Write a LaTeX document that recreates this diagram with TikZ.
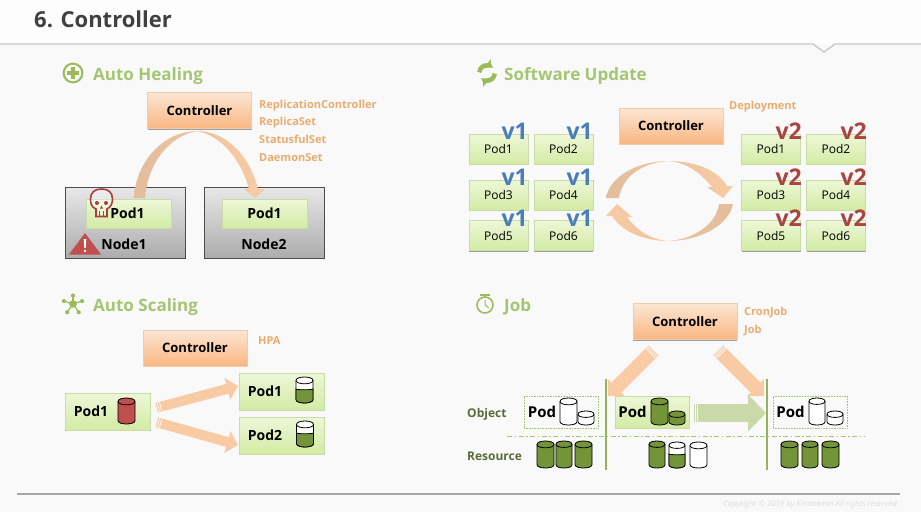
\documentclass[tikz,border=0pt]{standalone}
\usepackage{fontspec}
\setmainfont{Open Sans}
\usetikzlibrary{arrows.meta,shadows}
\definecolor{bgc}{HTML}{F9F9F9}
\definecolor{topc}{HTML}{FDFDFD}
\definecolor{hdr}{HTML}{A6C573}
\definecolor{icon}{HTML}{9BBB59}
\definecolor{lbl}{HTML}{E9AC70}
\definecolor{blockc}{HTML}{F8CBA5}
\definecolor{blockd}{HTML}{E2BD9C}
\definecolor{cylg}{HTML}{739439}
\definecolor{cylr}{HTML}{C0504D}
\definecolor{vone}{HTML}{4A7EBB}
\definecolor{vtwo}{HTML}{A94442}
\definecolor{darkt}{HTML}{5B6B3C}
\definecolor{podedge}{HTML}{C8DCA6}
\definecolor{podtop}{HTML}{EEF7D8}
\definecolor{podbot}{HTML}{D2EBA4}
\definecolor{ctedge}{HTML}{F0CBAA}
\definecolor{cttop}{HTML}{FCE6D4}
\definecolor{ctbot}{HTML}{F9B681}
\definecolor{hosttop}{HTML}{E8E8E8}
\definecolor{hostbot}{HTML}{ACACAC}
\definecolor{garrow}{HTML}{C9D9A9}
\definecolor{skullc}{HTML}{AD3D3D}
\newcommand{\bfs}[1]{\fontsize{#1}{#1}\selectfont\bfseries}
\newcommand{\rgs}[1]{\fontsize{#1}{#1}\selectfont}
% xl xr top bottom fill
\newcommand{\cylin}[5]{%
  \pgfmathsetmacro{\cr}{(#2-#1)*0.2}\pgfmathsetmacro{\ck}{\cr*1.33}%
  \pgfmathsetmacro{\ct}{#3+\cr}\pgfmathsetmacro{\cb}{#4-\cr}%
  \draw[cylline,fill=#5] (#1,\ct) -- (#1,\cb) .. controls +(0,\ck) and +(0,\ck) .. (#2,\cb) -- (#2,\ct) .. controls +(0,-\ck) and +(0,-\ck) .. (#1,\ct) -- cycle;
  \draw[cylline] (#1,\ct) .. controls +(0,\ck) and +(0,\ck) .. (#2,\ct);}
% xl xr top bottom level
\newcommand{\cylpart}[5]{%
  \cylin{#1}{#2}{#3}{#4}{white}%
  \draw[cylline,fill=cylg] (#1,#5) -- (#1,\cb) .. controls +(0,\ck) and +(0,\ck) .. (#2,\cb) -- (#2,#5) .. controls +(0,1) and +(0,1) .. (#1,#5) -- cycle;}
\tikzset{
  x=1pt,y=-1pt,
  cylline/.style={draw=black,line width=0.8pt},
  softshadow/.style={drop shadow={shadow xshift=0.4pt,shadow yshift=-1.4pt,fill=black!60,opacity=.6}},
  podbox/.style={rectangle,draw=podedge,line width=.5pt,top color=podtop,bottom color=podbot,softshadow,minimum width=85pt,minimum height=29pt,inner sep=0pt,font=\bfs{14}},
  smallpod/.style={podbox,minimum width=59pt,minimum height=30pt,font=\rgs{12}},
  ctrl/.style={rectangle,draw=ctedge,line width=.6pt,top color=cttop,bottom color=ctbot,softshadow,minimum width=104pt,minimum height=36pt,inner sep=0pt,font=\bfs{13}},
  hostbox/.style={rectangle,draw=black!70,line width=1pt,top color=hosttop,bottom color=hostbot,softshadow,minimum width=120pt,minimum height=71pt},
  hdrtext/.style={anchor=base west,inner sep=0pt,text=hdr,font=\bfs{17}},
  lbltext/.style={anchor=base west,inner sep=0pt,text=lbl,font=\bfs{11}},
  plaintext/.style={inner sep=0pt,font=\bfs{14}},
  vonetext/.style={anchor=base east,inner sep=0pt,text=vone,font=\bfs{23}},
  vtwotext/.style={anchor=base east,inner sep=0pt,text=vtwo,font=\bfs{23}},
  blockarrow/.style={draw=blockc,line width=#1},
  tailcut/.style={draw=bgc,line width=#1,dash pattern=on .8pt off 1.4pt on .8pt off 1.4pt on .8pt off 900pt},
  emptybox/.style={rectangle,draw=hdr,densely dotted,line width=.6pt,fill=bgc,minimum width=74pt,minimum height=32pt,inner sep=0pt},
  divider/.style={draw=icon!85!gray,line width=1.4pt},
  sidetext/.style={anchor=base west,inner sep=0pt,text=darkt,font=\bfs{12}},
}
\begin{document}
\begin{tikzpicture}
\useasboundingbox (0,0) rectangle (921,512);
\fill[bgc] (0,0) rectangle (921,512);
\fill[topc] (0,0) rectangle (921,44);
% title rule with notch
\fill[bgc] (813,44) -- (824,53) -- (835,44) -- cycle;
\draw[draw=black!22,line width=1.3pt] (0,44) -- (813,44) -- (824,52) -- (835,44) -- (921,44);
\draw[draw=black!35,line width=1.3pt] (17,494) -- (900,494);
\node[anchor=base west,inner sep=0pt,text=black!75,font=\bfs{22}] (title) at (34,27.5) {6. Controller};
\node[anchor=base east,inner sep=0pt,text=black!14,font=\rgs{7.8}\itshape] (copy) at (899,506) {Copyright © 2019 by Kimtaemin All rights reserved.};

% ---------- Headers ----------
\node[hdrtext] (h1) at (93,80) {Auto Healing};
\node[hdrtext] (h2) at (504,80) {Software Update};
\node[hdrtext] (h3) at (93,311) {Auto Scaling};
\node[hdrtext] (h4) at (504,311) {Job};
% plus icon
\draw[icon,line width=2pt] (73,73) circle (9.4);
\draw[icon,line width=4pt] (67,73) -- (79,73) (73,67) -- (73,79);
% refresh icon
\begin{scope}[shift={(487,73)},x=1pt,y=1pt]
  \draw[icon,line width=4.4pt,-{Triangle[length=5pt,width=11pt]}] (175:7.8) arc[start angle=175,end angle=55,radius=7.8];
  \draw[icon,line width=4.4pt,-{Triangle[length=5pt,width=11pt]}] (355:7.8) arc[start angle=355,end angle=235,radius=7.8];
\end{scope}
% network icon
\begin{scope}[shift={(73,304)},x=1pt,y=1pt]
  \foreach \a/\l in {90/8.5,18/9.5,-55/10,235/10,162/9.5}{
    \draw[icon,line width=1.2pt] (0,0) -- (\a:\l);
    \fill[icon] (\a:\l) circle (2.1);
  }
  \fill[icon] (0,0) circle (3.8);
\end{scope}
% stopwatch icon
\draw[icon,line width=1.5pt] (485,305) circle (8);
\draw[icon,line width=1.5pt] (480,295) -- (490,295) (485,295) -- (485,297);
\draw[icon,line width=1pt] (485,300) -- (485,305) -- (489,308);

% ---------- Auto Healing ----------
\node[ctrl] (hc) at (199.5,110.5) {Controller};
\node[lbltext] (l1) at (259,108) {ReplicationController};
\node[lbltext] (l2) at (259,125.5) {ReplicaSet};
\node[lbltext] (l3) at (259,143) {StatusfulSet};
\node[lbltext] (l4) at (259,161) {DaemonSet};
\node[hostbox] (n1) at (125,222.5) {};
\node[hostbox] (n2) at (264,222.5) {};
\shade[left color=blockd,right color=blockc]
  (134,198) .. controls (136,160) and (165,131) .. (197,131) .. controls (226,131) and (250,156) .. (258,189)
  -- (265,189) -- (255,198) -- (244,189) -- (249,189)
  .. controls (241,160) and (222,136) .. (197,131) .. controls (170,136) and (148,162) .. (145,198) -- cycle;
\node[podbox] (hp1) at (128.5,213.5) {};
\node[podbox] (hp2) at (264.5,213.5) {Pod1};
\node[plaintext] (hp1t) at (127.5,213.5) {Pod1};
\node[plaintext] (n1t) at (124,244) {Node1};
\node[plaintext] (n2t) at (264,244) {Node2};
% warning triangle
\fill[cylr] (69,254.5) -- (85,233) -- (101,254.5) -- cycle;
\fill[white] (83.7,239) -- (86.3,239) -- (85.7,248) -- (84.3,248) -- cycle (85,251) circle (1.4);
% skull
\draw[skullc,line width=1.6pt,fill=white,fill opacity=.35] (96,209) .. controls (91,207) and (90.5,203) .. (90.5,199) .. controls (90.5,192) and (95,189) .. (101.5,189) .. controls (108,189) and (112.5,192) .. (112.5,199) .. controls (112.5,203) and (111,207) .. (107,209) -- (107,216.5) -- (96,216.5) -- cycle;
\fill[skullc] (97,203) circle (2) (106,203) circle (2) (101.5,205.5) -- (103,208.5) -- (100,208.5) -- cycle;
\draw[skullc,line width=.9pt] (99.5,211) -- (99.5,216) (103.5,211) -- (103.5,216);

% ---------- Software Update ----------
\node[ctrl] (uc) at (671,126) {Controller};
\node[lbltext] (l5) at (729,109) {Deployment};
\foreach \nm/\x/\y in {1/498.5/149,2/563.5/149,3/498.5/195,4/563.5/195,5/498.5/235.5,6/563.5/235.5}{
  \node[smallpod] (ua\nm) at (\x,\y) {Pod\nm};
}
\foreach \nm/\x/\y in {1/771/149,2/836/149,3/771/195,4/836/195,5/771/235.5,6/836/235.5}{
  \node[smallpod] (ub\nm) at (\x,\y) {Pod\nm};
}
\foreach \nm/\x/\ty in {1/528/139,2/593/139,3/528/185,4/593/185,5/528/226.5,6/593/226.5}{
  \node[vonetext] (va\nm) at (\x,\ty) {v1};
}
\foreach \nm/\x/\ty in {1/802/139,2/867/139,3/802/185,4/867/185,5/802/226.5,6/867/226.5}{
  \node[vtwotext] (vb\nm) at (\x,\ty) {v2};
}
\shade[left color=blockd,right color=blockc]
  (606,198) .. controls (610,175) and (640,161) .. (668,161) .. controls (695,161) and (718,170) .. (727,186)
  -- (733,186) -- (723,198) -- (707,187) -- (712,187)
  .. controls (700,172) and (685,162) .. (668,161) .. controls (640,163) and (622,178) .. (619,198) -- cycle;
\shade[right color=blockd,left color=blockc]
  (733,204) .. controls (729,225) and (700,241) .. (668,241) .. controls (645,241) and (622,232) .. (612,216)
  -- (606,216) -- (617,204) -- (632,217) -- (627,217)
  .. controls (637,231) and (652,240) .. (668,241) .. controls (695,239) and (716,224) .. (719,204) -- cycle;

% ---------- Auto Scaling ----------
\node[ctrl] (sc) at (195,348) {Controller};
\node[lbltext] (l6) at (258,344) {HPA};
\node[podbox,minimum height=37pt] (sp0) at (107.5,411.5) {};
\node[plaintext] (sp0t) at (91,411.5) {Pod1};
\node[podbox,minimum height=37pt] (sp1) at (281.5,391.5) {};
\node[plaintext] (sp1t) at (265,391.5) {Pod1};
\node[podbox,minimum height=37pt] (sp2) at (281.5,435.5) {};
\node[plaintext] (sp2t) at (265,435.5) {Pod2};
\cylin{118}{135}{398}{424}{cylr}
\cylpart{296}{313}{377}{403}{389}
\cylpart{296.5}{313.5}{421}{447}{433}
\coordinate (st1) at (156,408);
\coordinate (sh1) at (238,386);
\coordinate (st2) at (156,422);
\coordinate (sh2) at (238,445);
\draw[blockarrow=10pt,-{Triangle[length=11pt,width=22pt]}] (st1) -- (sh1);
\draw[blockarrow=10pt,-{Triangle[length=11pt,width=22pt]}] (st2) -- (sh2);
\draw[tailcut=10pt] (st1) -- (sh1);
\draw[tailcut=10pt] (st2) -- (sh2);

% ---------- Job ----------
\node[ctrl] (jc) at (685,321.5) {Controller};
\node[lbltext] (l7) at (744,315.5) {CronJob};
\node[lbltext] (l8) at (744,333) {Job};
\coordinate (ja1) at (654,350);
\coordinate (jh1) at (608,396);
\coordinate (ja2) at (718,350);
\coordinate (jh2) at (764,396);
\draw[blockarrow=14pt,-{Triangle[length=12pt,width=24pt]}] (ja1) -- (jh1);
\draw[blockarrow=14pt,-{Triangle[length=12pt,width=24pt]}] (ja2) -- (jh2);
\draw[tailcut=14pt] (ja1) -- (jh1);
\draw[tailcut=14pt] (ja2) -- (jh2);
\coordinate (gt) at (693,413);
\coordinate (gh) at (766,413);
\draw[draw=garrow,line width=18pt,-{Triangle[length=18pt,width=36pt]}] (gt) -- (gh);
\draw[tailcut=18pt] (gt) -- (gh);
\coordinate (d1a) at (606,379);
\coordinate (d1b) at (606,470);
\coordinate (d2a) at (767,379);
\coordinate (d2b) at (767,470);
\draw[divider] (d1a) -- (d1b);
\draw[divider] (d2a) -- (d2b);
\coordinate (dla) at (507,436);
\coordinate (dlb) at (865,436);
\draw[draw=hdr,line width=.8pt,dash pattern=on 5pt off 2.5pt on 1.5pt off 2.5pt] (dla) -- (dlb);
\node[sidetext] (ot) at (467,417) {Object};
\node[sidetext] (rt) at (467,460) {Resource};
\node[emptybox] (e1) at (561,412) {};
\node[emptybox] (e2) at (810,412) {};
\node[podbox,minimum width=74pt,minimum height=32pt] (jp) at (652,412) {};
\node[plaintext,font=\bfs{15}] (e1t) at (542,412) {Pod};
\node[plaintext,font=\bfs{15}] (jpt) at (632.5,412) {Pod};
\node[plaintext,font=\bfs{15}] (e2t) at (790.5,412) {Pod};
\cylin{560}{577}{398}{425}{white}
\cylin{578}{594}{411}{425}{white}
\cylin{651}{668}{398}{425}{cylg}
\cylin{669}{685}{411}{425}{cylg}
\cylin{809}{825}{398}{425}{white}
\cylin{827}{843}{411}{425}{white}
\cylin{537}{554}{441}{468}{cylg}
\cylin{556}{572}{441}{468}{cylg}
\cylin{575}{592}{441}{468}{cylg}
\cylin{649}{665}{441}{468}{cylg}
\cylpart{669}{685}{442}{468}{454}
\cylin{690}{707}{442}{468}{white}
\cylin{781}{798}{441}{468}{cylg}
\cylin{802}{818}{441}{468}{cylg}
\cylin{822}{839}{441}{468}{cylg}
\end{tikzpicture}
\end{document}
